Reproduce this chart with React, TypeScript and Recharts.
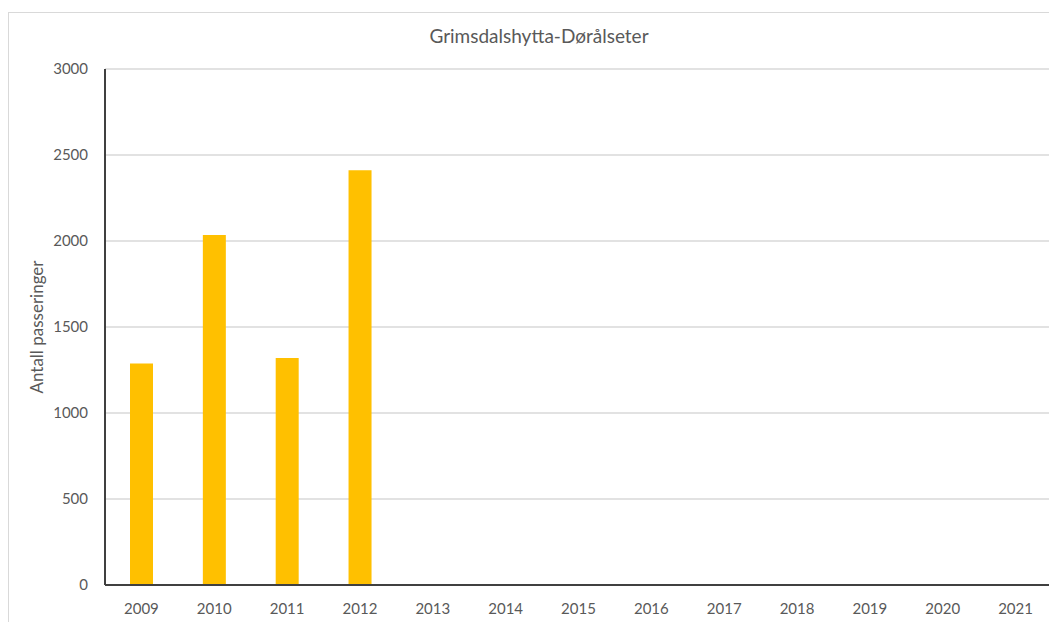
import { BarChart, Bar, XAxis, YAxis, CartesianGrid, Label } from "recharts";

const years = ["2009", "2010", "2011", "2012", "2013", "2014", "2015", "2016", "2017", "2018", "2019", "2020", "2021"];
const passages = [1288, 2035, 1320, 2411, null, null, null, null, null, null, null, null, null];
const yTicks = [0, 500, 1000, 1500, 2000, 2500, 3000];

const data = years.map((year, i) => ({ year, count: passages[i] }));

const font = "Lato, 'Open Sans', sans-serif";
const tickStyle = { fill: "#595959", fontSize: 15, fontFamily: font };

export default function App() {
  return (
    <div
      style={{
        position: "relative",
        marginTop: 4,
        width: 1049,
        height: 610,
        borderTop: "1px solid #d9d9d9",
        borderLeft: "1px solid #d9d9d9",
        background: "#fff",
      }}
    >
      <div
        style={{
          position: "absolute",
          top: 11,
          left: 0,
          width: 1060,
          textAlign: "center",
          fontFamily: font,
          fontSize: 19,
          color: "#595959",
        }}
      >
        Grimsdalshytta-Dørålseter
      </div>
      <BarChart
        width={1049}
        height={610}
        data={data}
        margin={{ top: 56, right: 6, bottom: 0, left: 0 }}
      >
        <CartesianGrid vertical={false} stroke="#d9d9d9" strokeWidth={1.5} />
        <XAxis
          dataKey="year"
          height={38}
          tick={tickStyle}
          tickLine={false}
          axisLine={{ stroke: "#404040", strokeWidth: 2 }}
          tickMargin={12}
        />
        <YAxis
          width={96}
          domain={[0, 3000]}
          ticks={yTicks}
          tick={tickStyle}
          tickLine={false}
          axisLine={{ stroke: "#404040", strokeWidth: 2 }}
          tickMargin={11}
          interval={0}
        >
          <Label
            value="Antall passeringer"
            angle={-90}
            position="insideLeft"
            offset={28}
            style={{ fill: "#595959", fontSize: 17, fontFamily: font, textAnchor: "middle" }}
          />
        </YAxis>
        <Bar dataKey="count" fill="#ffc000" barSize={23} isAnimationActive={false} />
      </BarChart>
    </div>
  );
}
